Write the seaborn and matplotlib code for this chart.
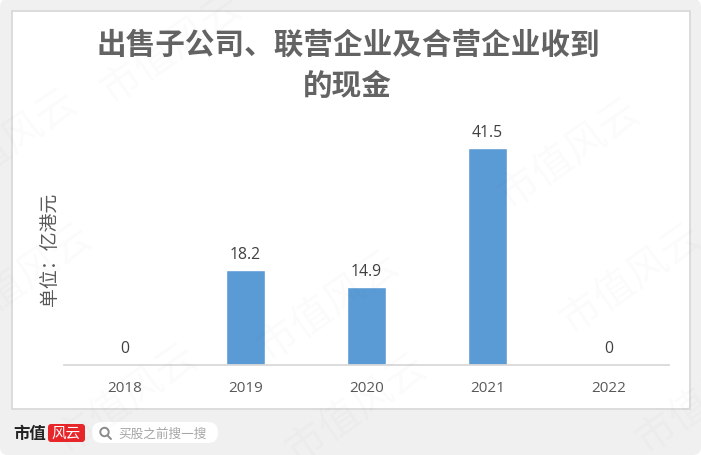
import matplotlib
matplotlib.use("Agg")
import matplotlib.pyplot as plt
from matplotlib.patches import FancyBboxPatch, Rectangle, Circle
from matplotlib.lines import Line2D
import seaborn as sns
import pandas as pd

years = ["2018", "2019", "2020", "2021", "2022"]
values = [0, 18.2, 14.9, 41.5, 0]
value_labels = ["0", "18.2", "14.9", "41.5", "0"]
title_lines = ["出售子公司、联营企业及合营企业收到", "的现金"]
ylabel = "单位：亿港元"
watermark = "市值风云"
watermark_spots = [(105, 95), (262, 352), (503, 200), (-45, 325), (60, 445), (290, 455), (640, 445), (565, 325), (-60, 190)]

sns.set_theme(style="white")
plt.rcParams["font.family"] = ["Noto Sans CJK SC", "DejaVu Sans"]

W, H = 701, 456
fig = plt.figure(figsize=(W / 100, H / 100), dpi=100, facecolor="white")

def fx(x): return x / W
def fy(y): return 1 - y / H

def box(x0, y0, x1, y1, radius, color, zorder=1):
    fig.patches.append(FancyBboxPatch((x0, H - y1), x1 - x0, y1 - y0,
                                      boxstyle=f"round,pad=0,rounding_size={radius}",
                                      transform=None, fc=color, ec="none", zorder=zorder))

box(0, 0, W, H, 8, "#f0f0f0", zorder=-3)
fig.patches.append(Rectangle((12, H - 409.7), 678, 398, transform=None,
                             fc="white", ec="#d9d9d9", lw=1.3, zorder=-2))

ax = fig.add_axes([fx(64), fy(365.5), 605 / W, 300 / H])
ax.patch.set_alpha(0)
df = pd.DataFrame({"year": years, "value": values})
sns.barplot(data=df, x="year", y="value", color="#5b9bd5", saturation=1, width=0.316, ax=ax)
ax.set_xlim(-0.5, 4.5)
ax.set_ylim(0, 300 / 5.21)
for i, (v, s) in enumerate(zip(values, value_labels)):
    ax.annotate(s, (i, v), xytext=(0, 5.8), textcoords="offset points",
                ha="center", va="bottom", fontsize=11.3, color="#404040", family=["Open Sans"])
ax.set_xlabel("")
ax.set_ylabel("")
ax.set_yticks([])
ax.tick_params(axis="x", length=0, pad=11)
for lab in ax.get_xticklabels():
    lab.set_fontsize(11)
    lab.set_color("#595959")
    lab.set_family(["Open Sans"])
for side in ["top", "right", "left"]:
    ax.spines[side].set_visible(False)
ax.spines["bottom"].set_color("#d9d9d9")
ax.spines["bottom"].set_linewidth(1.3)

fig.text(fx(348), fy(45), title_lines[0], ha="center", va="center", fontsize=21.3, fontweight="bold", color="#636363")
fig.text(fx(347), fy(86), title_lines[1], ha="center", va="center", fontsize=21.3, fontweight="bold", color="#636363")
fig.text(fx(49), fy(249), ylabel, rotation=90, ha="center", va="center", fontsize=13.6, color="#595959")

# footer brand
fig.text(fx(13), fy(434), "市值", ha="left", va="center", fontsize=11.8, fontweight="bold", color="#222222")
box(48, 425, 85, 443, 3, "#e8262a")
fig.text(fx(66.5), fy(434), "风云", ha="center", va="center", fontsize=10.5, color="white")
box(92, 423, 218, 444, 10, "white")
fig.patches.append(Circle((104.5, H - 433), 4.2, transform=None, fc="none", ec="#8c8c8c", lw=1.4))
fig.add_artist(Line2D([107.5, 111], [H - 436.5, H - 440], transform=None, color="#8c8c8c", lw=1.4))
fig.text(fx(118), fy(434), "买股之前搜一搜", ha="left", va="center", fontsize=9.1, color="#a6a6a6")

for x, y in watermark_spots:
    fig.text(fx(x), fy(y), watermark, rotation=35, rotation_mode="anchor", ha="left", va="center",
             fontsize=29, color="#000000", alpha=0.018, zorder=10)

fig.savefig("out.png", dpi=100, facecolor=fig.get_facecolor())
